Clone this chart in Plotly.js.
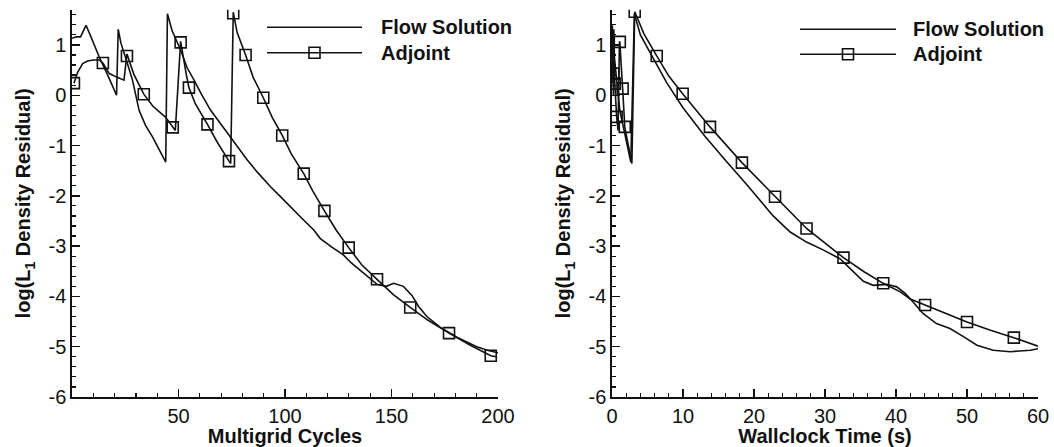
<!DOCTYPE html>
<html>
<head>
<meta charset="utf-8">
<script src="https://cdn.plot.ly/plotly-3.0.1.min.js"></script>
<style>
  html, body { margin: 0; padding: 0; background: #fff; }
  #chart { width: 1054px; height: 447px; }
</style>
</head>
<body>
<div id="chart"></div>
<script>
// ---------- Left panel: residual vs multigrid cycles ----------
const flowCycles = [0, 2, 4, 6.6, 9, 12.8, 17.5, 20.9, 21.7, 23, 25.3, 28.4, 31.5, 34.5, 37.8, 41, 44, 44.8, 47, 51, 54, 57.3, 61, 65.1, 70, 74.5, 78, 82.3, 87, 93.2, 98, 104.1, 108, 113.5, 116.6, 122, 127.5, 131, 135.4, 139, 143.2, 147.5, 151, 155.6, 159.6, 162.7, 166.6, 172.8, 180.7, 190, 195, 200];
const flowCyclesRes = [1.13, 1.16, 1.16, 1.39, 1.15, 0.76, 0.33, 0.0, 1.31, 1.03, 0.73, 0.30, -0.30, -0.60, -0.83, -1.08, -1.33, 1.62, 1.28, 0.90, 0.55, 0.30, 0.0, -0.30, -0.58, -0.83, -1.03, -1.29, -1.53, -1.82, -2.02, -2.29, -2.45, -2.68, -2.85, -3.02, -3.18, -3.33, -3.48, -3.62, -3.76, -3.80, -3.74, -3.80, -3.98, -4.20, -4.40, -4.61, -4.81, -5.00, -5.07, -5.12];

const adjCycles = [0.9, 2.7, 5, 7.3, 10, 12.8, 14.5, 17.5, 21, 24.4, 25.8, 29, 33.7, 38, 44, 47.3, 48.5, 51, 52, 53.5, 54.9, 58, 63.6, 68, 73.7, 74.5, 75.7, 77.5, 81.5, 85, 89.8, 94, 98.7, 103, 108.8, 113, 118.5, 124, 129.9, 136, 143.2, 151, 158.8, 167, 177, 187, 196.6, 199.4];
const adjCyclesRes = [0.24, 0.46, 0.63, 0.68, 0.70, 0.70, 0.64, 0.43, 0.36, 0.30, 0.82, 0.42, 0.02, -0.22, -0.44, -0.64, -0.70, 1.07, 0.80, 0.45, 0.15, -0.18, -0.58, -0.92, -1.31, -1.36, 1.65, 1.25, 0.80, 0.36, -0.05, -0.44, -0.80, -1.17, -1.56, -1.90, -2.30, -2.68, -3.03, -3.37, -3.66, -3.97, -4.22, -4.47, -4.73, -4.97, -5.18, -5.20];

const adjSymCycles = [0.9, 14.5, 25.8, 33.7, 47.3, 51, 54.9, 63.6, 73.7, 75.7, 81.5, 89.8, 98.7, 108.8, 118.5, 129.9, 143.2, 158.8, 177, 196.6];
const adjSymCyclesRes = [0.24, 0.64, 0.78, 0.02, -0.64, 1.05, 0.15, -0.58, -1.31, 1.63, 0.80, -0.05, -0.80, -1.56, -2.30, -3.03, -3.66, -4.22, -4.73, -5.18];

// ---------- Right panel: residual vs wallclock time ----------
const flowTime = [0, 0.05, 0.2, 0.25, 0.35, 1.1, 1.9, 2.65, 3.15, 4, 5.35, 7.7, 10, 13, 16, 19, 22.7, 25.1, 27.4, 29.8, 32.1, 34, 35.4, 36.8, 38.7, 40.1, 41.3, 42.4, 43.8, 45.7, 47.6, 49.5, 51.4, 53.7, 56.1, 58.9, 60];
const flowTimeRes = [1.13, 1.39, 0.0, 1.31, 0.73, -0.30, -0.83, -1.33, 1.62, 1.20, 0.85, 0.25, -0.25, -0.80, -1.30, -1.78, -2.40, -2.72, -2.92, -3.08, -3.25, -3.52, -3.70, -3.78, -3.76, -3.81, -3.94, -4.11, -4.34, -4.54, -4.64, -4.80, -4.97, -5.07, -5.10, -5.07, -5.04];

const adjTime = [0, 0.08, 0.2, 0.26, 0.3, 0.4, 0.65, 0.85, 1.05, 1.1, 1.5, 1.8, 2.3, 2.8, 3.2, 4.5, 6.3, 8, 9.95, 13.8, 18.3, 22.96, 27.4, 32.6, 35.5, 38.2, 40.6, 42, 44.1, 47.1, 50, 53.2, 56.6, 60];
const adjTimeRes = [0.24, 0.66, 0.43, 0.30, 0.82, 0.23, -0.43, -0.70, 1.07, 1.06, 0.13, -0.63, -1.00, -1.36, 1.66, 1.22, 0.78, 0.38, 0.03, -0.63, -1.34, -2.02, -2.65, -3.23, -3.51, -3.74, -3.91, -4.05, -4.17, -4.34, -4.51, -4.67, -4.82, -4.99];

const adjSymTime = [0.2, 0.4, 0.65, 1.1, 1.5, 1.8, 3.2, 6.3, 9.95, 13.8, 18.3, 22.96, 27.4, 32.6, 38.2, 44.1, 50.0, 56.6];
const adjSymTimeRes = [0.43, 0.23, -0.43, 1.06, 0.13, -0.63, 1.66, 0.78, 0.03, -0.63, -1.34, -2.02, -2.65, -3.23, -3.74, -4.17, -4.51, -4.82];

// ---------- axis ticks and labels ----------
const yTickVals = [-6, -5, -4, -3, -2, -1, 0, 1];
const yTickText = ['-6', '-5', '-4', '-3', '-2', '-1', '0', '1'];
const xCycleTickVals = [50, 100, 150, 200];
const xCycleTickText = ['50', '100', '150', '200'];
const xTimeTickVals = [0, 10, 20, 30, 40, 50, 60];
const xTimeTickText = ['0', '10', '20', '30', '40', '50', '60'];
const seriesNames = ['Flow Solution', 'Adjoint'];
const yTitle = 'log(L<sub>1</sub> Density Residual)';
const xTitles = ['Multigrid Cycles', 'Wallclock Time (s)'];

// ---------- styling ----------
const INK = '#111';
const LW = 1.6;
const FONT = 'Liberation Sans, Arial, Helvetica, sans-serif';
const W = 1054, H = 447;
const px = v => v / W;
const py = v => 1 - v / H;

const lineStyle = { color: INK, width: LW };
const symStyle = { symbol: 'square-open', size: 11, color: INK, line: { color: INK, width: 1.6 } };

const traces = [
  { x: flowCycles, y: flowCyclesRes, mode: 'lines', line: lineStyle, name: seriesNames[0], showlegend: false, xaxis: 'x', yaxis: 'y', hoverinfo: 'skip' },
  { x: adjCycles, y: adjCyclesRes, mode: 'lines', line: lineStyle, name: seriesNames[1], showlegend: false, xaxis: 'x', yaxis: 'y', hoverinfo: 'skip' },
  { x: adjSymCycles, y: adjSymCyclesRes, mode: 'markers', marker: symStyle, name: seriesNames[1], showlegend: false, xaxis: 'x', yaxis: 'y' },
  { x: flowTime, y: flowTimeRes, mode: 'lines', line: lineStyle, name: seriesNames[0], showlegend: false, xaxis: 'x2', yaxis: 'y2', hoverinfo: 'skip' },
  { x: adjTime, y: adjTimeRes, mode: 'lines', line: lineStyle, name: seriesNames[1], showlegend: false, xaxis: 'x2', yaxis: 'y2', hoverinfo: 'skip' },
  { x: adjSymTime, y: adjSymTimeRes, mode: 'markers', marker: symStyle, name: seriesNames[1], showlegend: false, xaxis: 'x2', yaxis: 'y2' }
];

function xAxis(domain, range, tv, tt, minorD, title) {
  return {
    domain: domain, range: range, showgrid: false, zeroline: false,
    showline: true, linecolor: INK, linewidth: 1.6, mirror: false,
    ticks: 'inside', ticklen: 8, tickwidth: 1.4, tickcolor: INK,
    tickmode: 'array', tickvals: tv, ticktext: tt,
    tickfont: { family: FONT, size: 20, color: INK },
    minor: { tickmode: 'linear', tick0: 0, dtick: minorD, ticks: 'inside', ticklen: 4, tickwidth: 1.2, tickcolor: INK, showgrid: false },
    title: { text: title, font: { family: FONT, size: 20, color: INK, weight: 'bold' }, standoff: 0 },
    automargin: false, fixedrange: true
  };
}
function yAxis(anchor) {
  return {
    anchor: anchor, domain: [(H - 397) / H, (H - 9.7) / H], range: [-6, 1.7],
    showgrid: false, zeroline: false, showline: true, linecolor: INK, linewidth: 1.6,
    ticks: 'inside', ticklen: 8, tickwidth: 1.4, tickcolor: INK,
    tickmode: 'array', tickvals: yTickVals, ticktext: yTickText,
    tickfont: { family: FONT, size: 20, color: INK },
    minor: { tickmode: 'linear', tick0: 0, dtick: 0.2, ticks: 'inside', ticklen: 4, tickwidth: 1.2, tickcolor: INK, showgrid: false },
    title: { text: yTitle, font: { family: FONT, size: 20, color: INK, weight: 'bold' }, standoff: 12 },
    automargin: false, fixedrange: true
  };
}

// manual Tecplot-style legends
function legendParts(x0, x1, yFlow, yAdj, xText) {
  const sq = 5.5, xm = (x0 + x1) / 2;
  const shapes = [
    { type: 'line', xref: 'paper', yref: 'paper', x0: px(x0), x1: px(x1), y0: py(yFlow), y1: py(yFlow), line: { color: INK, width: LW } },
    { type: 'line', xref: 'paper', yref: 'paper', x0: px(x0), x1: px(x1), y0: py(yAdj), y1: py(yAdj), line: { color: INK, width: LW } },
    { type: 'rect', xref: 'paper', yref: 'paper', x0: px(xm - sq), x1: px(xm + sq), y0: py(yAdj - sq), y1: py(yAdj + sq), line: { color: INK, width: 1.6 }, fillcolor: 'rgba(0,0,0,0)' }
  ];
  const ann = [
    { xref: 'paper', yref: 'paper', x: px(xText), y: py(yFlow), xanchor: 'left', yanchor: 'middle', text: '<b>' + seriesNames[0] + '</b>', showarrow: false, font: { family: FONT, size: 20, color: INK } },
    { xref: 'paper', yref: 'paper', x: px(xText), y: py(yAdj), xanchor: 'left', yanchor: 'middle', text: '<b>' + seriesNames[1] + '</b>', showarrow: false, font: { family: FONT, size: 20, color: INK } }
  ];
  return { shapes, ann };
}
const lg1 = legendParts(267, 362, 27.3, 52.7, 379);
const lg2 = legendParts(800, 896, 29.3, 54.3, 911);

const layout = {
  width: W, height: H,
  margin: { l: 0, r: 0, t: 0, b: 0 },
  paper_bgcolor: '#fff', plot_bgcolor: '#fff',
  showlegend: false,
  xaxis: xAxis([px(72), px(498)], [0, 200], xCycleTickVals, xCycleTickText, 10, xTitles[0]),
  yaxis: yAxis('x'),
  xaxis2: Object.assign(xAxis([px(612), px(1038)], [0, 60], xTimeTickVals, xTimeTickText, 2, xTitles[1]), { anchor: 'y2' }),
  yaxis2: yAxis('x2'),
  shapes: lg1.shapes.concat(lg2.shapes),
  annotations: lg1.ann.concat(lg2.ann)
};
layout.xaxis.anchor = 'y';

Plotly.newPlot('chart', traces, layout, { staticPlot: true, displayModeBar: false });
</script>
</body>
</html>
